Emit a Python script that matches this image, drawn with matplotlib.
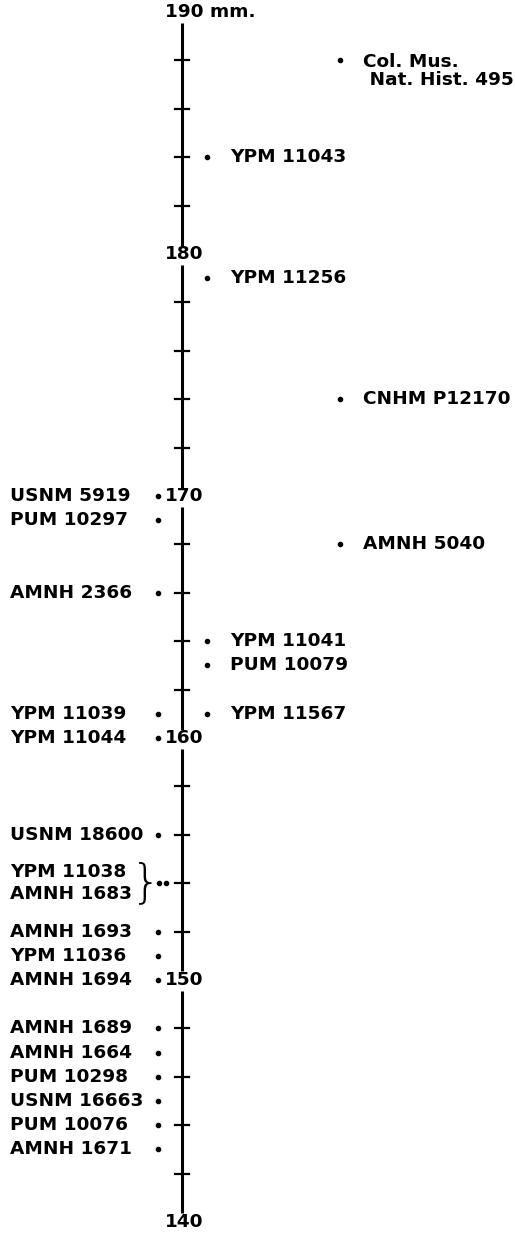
import matplotlib
matplotlib.use("Agg")
import matplotlib.pyplot as plt

# specimens plotted left of the scale (mm)
left_labels = ["USNM 5919", "PUM 10297", "AMNH 2366", "YPM 11039", "YPM 11044",
               "USNM 18600", "AMNH 1693", "YPM 11036", "AMNH 1694",
               "AMNH 1689", "AMNH 1664", "PUM 10298", "USNM 16663", "PUM 10076", "AMNH 1671"]
left_values = [170, 169, 166, 161, 160, 156, 152, 151, 150, 148, 147, 146, 145, 144, 143]

# two specimens sharing one value, bracketed together
pair_labels = ["YPM 11038", "AMNH 1683"]
pair_value = 154

# specimens plotted right of the scale; col 0 = near, 1 = far
right_labels = ["Col. Mus.\n Nat. Hist. 495", "YPM 11043", "YPM 11256", "CNHM P12170",
                "AMNH 5040", "YPM 11041", "PUM 10079", "YPM 11567"]
right_values = [188, 184, 179, 174, 168, 164, 163, 161]
right_col = [1, 0, 0, 1, 1, 0, 0, 0]

ticks = [142, 144, 146, 148, 152, 154, 156, 158, 162, 164, 166, 168,
         172, 174, 176, 178, 182, 184, 186, 188]
decades = [140, 150, 160, 170, 180, 190]

font = dict(family="DejaVu Sans", fontweight="bold", fontsize=13.3)

fig = plt.figure(figsize=(5.15, 12.34), dpi=100)
ax = fig.add_axes([0, 0, 1, 1])
ax.set_xlim(0, 515)
ax.set_ylim(139.5, 190.5)
ax.axis("off")

AX_X = 182
# main scale, broken where the decade numbers sit
for lo, hi in zip(decades[:-1], decades[1:]):
    ax.plot([AX_X, AX_X], [lo + 0.35, hi - 0.45], color="black", lw=2.2, solid_capstyle="butt")
for t in ticks:
    ax.plot([AX_X - 7, AX_X + 7], [t, t], color="black", lw=1.6)
for d in decades:
    ax.text(165, d, str(d) + (" mm." if d == 190 else ""), ha="left", va="center", **font)

# left specimens
for lab, v in zip(left_labels, left_values):
    ax.plot(158, v, "o", color="black", ms=3)
    ax.text(10, v, lab, ha="left", va="center", **font)

# bracketed pair
ax.plot([159, 166], [pair_value, pair_value], "o", color="black", ms=3)
ax.text(10, pair_value + 0.45, pair_labels[0], ha="left", va="center", **font)
ax.text(10, pair_value - 0.45, pair_labels[1], ha="left", va="center", **font)
ax.text(131, pair_value, "}", ha="left", va="center", family="DejaVu Sans",
        fontsize=34, fontweight="light")

# right specimens
dot_x = [207, 340]
lab_x = [230, 363]
for lab, v, c in zip(right_labels, right_values, right_col):
    ax.plot(dot_x[c], v, "o", color="black", ms=3)
    va = "top" if "\n" in lab else "center"
    y = v + 0.3 if "\n" in lab else v
    ax.text(lab_x[c], y, lab, ha="left", va=va, linespacing=1.0, **font)

fig.savefig("out.png", dpi=100)
